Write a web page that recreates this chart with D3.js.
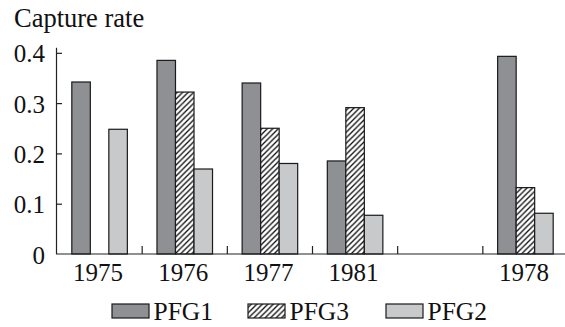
<!DOCTYPE html>
<html><head><meta charset="utf-8">
<script src="https://cdn.jsdelivr.net/npm/d3@7"></script>
<style>body{margin:0;background:#fff}svg{display:block}</style>
</head><body>
<svg id="c" width="565" height="327" font-family="Liberation Serif, Times New Roman, serif"></svg>
<script>
const categories = ["1975","1976","1977","1981","","1978"];
const series = ["PFG1","PFG3","PFG2"];
const PFG1 = [0.342, 0.385, 0.340, 0.185, null, 0.393];
const PFG3 = [null, 0.322, 0.250, 0.291, null, 0.132];
const PFG2 = [0.248, 0.169, 0.180, 0.077, null, 0.081];
const yTicks = [0, 0.1, 0.2, 0.3, 0.4];
const yTickLabels = ["0","0.1","0.2","0.3","0.4"];
const values = {PFG1, PFG3, PFG2};

const svg = d3.select("#c");
const defs = svg.append("defs");
const pat = defs.append("pattern").attr("id","hatch").attr("patternUnits","userSpaceOnUse")
  .attr("width",5.5).attr("height",5.5);
pat.append("rect").attr("width",5.5).attr("height",5.5).attr("fill","#fff");
pat.append("path").attr("d","M-1,1 L1,-1 M0,5.5 L5.5,0 M4.5,6.5 L6.5,4.5").attr("stroke","#111").attr("stroke-width",1.3);

const fills = {PFG1:"#8f9094", PFG3:"url(#hatch)", PFG2:"#c8c9cb"};

const x0 = d3.scaleBand().domain(categories).range([57, 568]).padding(0);
const x1 = d3.scaleBand().domain(series).range([0, x0.bandwidth()]).paddingInner(0).paddingOuter(0.8);
const y = d3.scaleLinear().domain([0, 0.41]).range([254, 47.8]);

// bars
const g = svg.append("g");
categories.forEach((c, i) => {
  series.forEach(s => {
    const v = values[s][i];
    if (v == null) return;
    g.append("rect")
      .attr("x", x0(c) + x1(s))
      .attr("y", y(v))
      .attr("width", x1.bandwidth())
      .attr("height", y(0) - y(v))
      .attr("fill", fills[s])
      .attr("stroke", "#1a1a1a").attr("stroke-width", 1.2);
  });
});

// y axis
const yAxis = d3.axisRight(y).tickValues(yTicks.slice(1)).tickSize(6).tickFormat("");
const ya = svg.append("g").attr("transform","translate(56,0)").call(yAxis);
ya.select(".domain").attr("d", `M0.5,${y(0.41)}V${y(0)}`).attr("stroke","#222").attr("stroke-width",1.2);
ya.selectAll(".tick line").attr("stroke","#222").attr("stroke-width",1.2);
svg.append("g").selectAll("text").data(yTicks).join("text")
  .attr("x", 45).attr("y", d => y(d) + 9.5).attr("text-anchor","end")
  .attr("font-size", 25).attr("fill","#111").text((d,i) => yTickLabels[i]);

// x axis
svg.append("line").attr("x1",56).attr("x2",565).attr("y1",y(0)).attr("y2",y(0))
  .attr("stroke","#222").attr("stroke-width",1.2);
svg.append("g").selectAll("line").data(categories.slice(1)).join("line")
  .attr("x1", d => x0(d)).attr("x2", d => x0(d))
  .attr("y1", y(0)).attr("y2", y(0) - 8)
  .attr("stroke","#222").attr("stroke-width",1.2);
svg.append("g").selectAll("text").data(categories).join("text")
  .attr("x", d => x0(d) + x0.bandwidth()/2 - 1.5).attr("y", 281)
  .attr("text-anchor","middle").attr("font-size",25).attr("fill","#111").text(d => d);

// title
svg.append("text").attr("x", 14).attr("y", 26.5).attr("font-size", 26.5).attr("fill","#111").text("Capture rate");

// legend
const legX = [112, 248, 386];
const lg = svg.append("g");
series.forEach((s, i) => {
  lg.append("rect").attr("x", legX[i]).attr("y", 304).attr("width", 37).attr("height", 14)
    .attr("fill", fills[s]).attr("stroke","#1a1a1a").attr("stroke-width",1.2);
  lg.append("text").attr("x", legX[i] + 41.5).attr("y", 319.5).attr("font-size", 25.5).attr("fill","#111").text(s);
});
</script>
</body></html>
